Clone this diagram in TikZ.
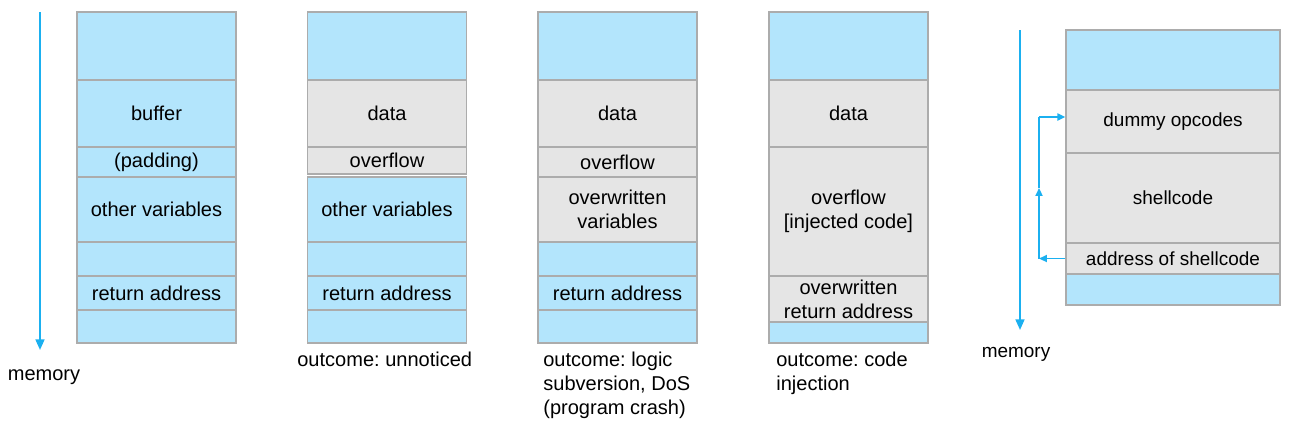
\documentclass[tikz,border=0pt]{standalone}
\usepackage{fontspec}
\setmainfont{Liberation Sans}
\usetikzlibrary{arrows.meta}
\frenchspacing

\definecolor{stackblue}{RGB}{179,229,252}
\definecolor{stackgray}{RGB}{229,229,229}
\definecolor{rimgray}{RGB}{172,172,172}
\definecolor{arrowblue}{RGB}{27,176,240}

\tikzset{
  cell/.style={draw=rimgray, line width=0.8pt, inner sep=0pt, align=center,
    font=\fontsize{11.4}{13.6}\selectfont},
  memarrow/.style={arrowblue, line width=1.1pt, -{Triangle[width=5pt,length=6pt]}},
  jumparrow/.style={arrowblue, line width=1pt, -{Triangle[width=4pt,length=4.5pt]}},
  outcome/.style={anchor=north west, inner sep=0pt, align=left,
    font=\fontsize{11.4}{13.6}\selectfont},
}

\begin{document}
\begin{tikzpicture}[x=0.02cm,y=-0.02cm]
\useasboundingbox (0,0) rectangle (1294,427);

% memory direction, left
\coordinate (memtop) at (40,12);
\coordinate (membot) at (40,350);
\draw[memarrow] (memtop) -- (membot);
\node[outcome, anchor=center] (memlabel) at (44,377) {memory};

% normal stack
\foreach \ya/\yb/\col/\txt [count=\i] in {12/80/stackblue/{}, 80/147/stackblue/buffer,
    147/177/stackblue/(padding), 177/242/stackblue/other variables, 242/276/stackblue/{},
    276/310/stackblue/return address, 310/343/stackblue/{}}{
  \node[cell, fill=\col, minimum width=3.18cm, minimum height={(\yb-\ya)*0.02cm}]
    (a\i) at (156.5,{(\ya+\yb)/2}) {\txt};
}

% small overflow
\foreach \ya/\yb/\col/\txt [count=\i] in {12/80/stackblue/{}, 80/147/stackgray/data,
    147/174/stackgray/overflow, 177/242/stackblue/other variables, 242/276/stackblue/{},
    276/310/stackblue/return address, 310/343/stackblue/{}}{
  \node[cell, fill=\col, minimum width=3.18cm, minimum height={(\yb-\ya)*0.02cm}]
    (b\i) at (387,{(\ya+\yb)/2}) {\txt};
}
\node[outcome] (bout) at (297,352) {outcome: unnoticed};

% overwritten variables
\foreach \ya/\yb/\col/\txt [count=\i] in {12/80/stackblue/{}, 80/147/stackgray/data,
    147/177/stackgray/overflow, 177/242/stackgray/{overwritten\\variables},
    242/276/stackblue/{}, 276/310/stackblue/return address, 310/343/stackblue/{}}{
  \node[cell, fill=\col, minimum width=3.18cm, minimum height={(\yb-\ya)*0.02cm}]
    (c\i) at (617.5,{(\ya+\yb)/2}) {\txt};
}
\node[outcome] (cout) at (543,352) {outcome: logic\\subversion, DoS\\(program crash)};

% overwritten return address
\foreach \ya/\yb/\col/\txt [count=\i] in {12/80/stackblue/{}, 80/147/stackgray/data,
    147/276/stackgray/{overflow\\{[injected code]}},
    276/322/stackgray/{overwritten\\return address}, 322/343/stackblue/{}}{
  \node[cell, fill=\col, minimum width=3.18cm, minimum height={(\yb-\ya)*0.02cm}]
    (d\i) at (848.5,{(\ya+\yb)/2}) {\txt};
}
\node[outcome] (dout) at (776,352) {outcome: code\\injection};

% memory direction, right
\coordinate (memtop2) at (1020,30);
\coordinate (membot2) at (1020,330);
\draw[memarrow] (memtop2) -- (membot2);
\node[outcome, anchor=center, font=\fontsize{10.8}{13}\selectfont] (memlabel2) at (1016,354) {memory};

% injected stack
\foreach \ya/\yb/\col/\txt [count=\i] in {30/90/stackblue/{}, 90/153/stackgray/dummy opcodes,
    153/243/stackgray/shellcode, 243/274/stackgray/address of shellcode,
    274/305/stackblue/{}}{
  \node[cell, fill=\col, minimum width=4.28cm, minimum height={(\yb-\ya)*0.02cm},
    font=\fontsize{10.8}{13}\selectfont] (e\i) at (1173,{(\ya+\yb)/2}) {\txt};
}

% jump back to the opcodes
\coordinate (lowbend) at (1039,258.5);
\coordinate (midup) at (1039,188);
\coordinate (upbend) at (1039,117);
\draw[jumparrow] (e4.west) -- (lowbend);
\draw[jumparrow] (lowbend) -- (midup);
\draw[arrowblue, line width=1pt] (midup) -- (upbend);
\draw[jumparrow] (upbend) -- (upbend -| e2.west);
\end{tikzpicture}
\end{document}
